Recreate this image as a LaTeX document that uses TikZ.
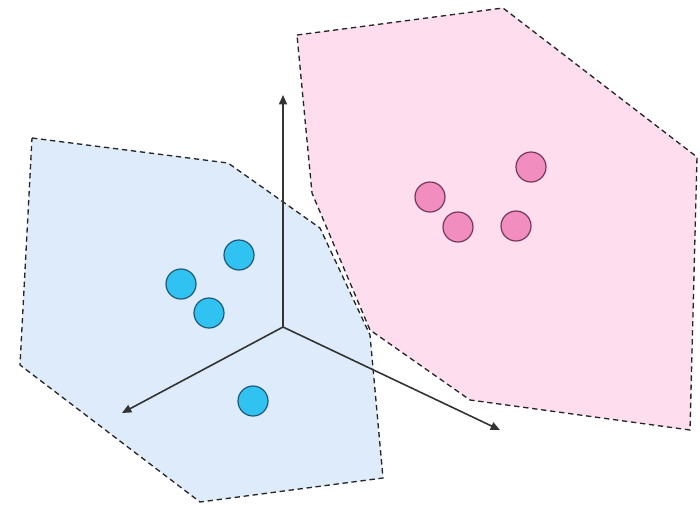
\documentclass[tikz,border=0pt]{standalone}
\usepackage{tikz}
\usetikzlibrary{arrows.meta}

\definecolor{regionblue}{HTML}{DDEBFB}
\definecolor{regionpink}{HTML}{FDDDEE}
\definecolor{dotblue}{HTML}{30C3F1}
\definecolor{dotpink}{HTML}{F28DC0}
\definecolor{rimblue}{HTML}{1E5876}
\definecolor{rimpink}{HTML}{74375A}

\tikzset{
  region/.style={draw=black!85, line width=1pt, dash pattern={on 4pt off 2.8pt}},
  axis/.style={draw=black!80, line width=1.2pt, -{Triangle[length=7pt,width=6pt]}},
  bluedot/.style={circle, draw=rimblue, fill=dotblue, line width=0.9pt, minimum size=22.5pt, inner sep=0pt},
  pinkdot/.style={circle, draw=rimpink, fill=dotpink, line width=0.9pt, minimum size=22.5pt, inner sep=0pt}
}

\begin{document}
\begin{tikzpicture}[x=0.75pt,y=0.75pt,yscale=-1,xscale=1]
\useasboundingbox (0,0) rectangle (700,508);

%Blue region
\draw [region, fill=regionblue] (32,138) -- (228,163) -- (320,228) -- (370,335) -- (383,478) -- (200,502) -- (20,365) -- cycle ;
%Pink region
\draw [region, fill=regionpink] (297,35) -- (503,8) -- (697,157) -- (690,430) -- (470,400) -- (370,330) -- (312,193) -- cycle ;

%Axes
\coordinate (o) at (283,327) ;
\coordinate (up) at (283,95) ;
\coordinate (left) at (122,413) ;
\coordinate (right) at (500,430) ;
\draw [axis] (o) -- (up) ;
\draw [axis] (o) -- (left) ;
\draw [axis] (o) -- (right) ;

%Blue points
\node [bluedot] (b1) at (239,255) {} ;
\node [bluedot] (b2) at (181,284) {} ;
\node [bluedot] (b3) at (209,313) {} ;
\node [bluedot] (b4) at (253,401) {} ;

%Pink points
\node [pinkdot] (p1) at (430,197) {} ;
\node [pinkdot] (p2) at (458,227) {} ;
\node [pinkdot] (p3) at (516,226) {} ;
\node [pinkdot] (p4) at (531,167) {} ;

\end{tikzpicture}
\end{document}
